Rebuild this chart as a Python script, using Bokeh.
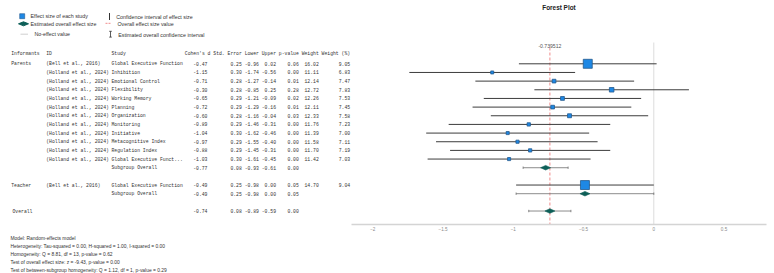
from bokeh.plotting import figure
from bokeh.models import Range1d, FixedTicker
from bokeh.core.properties import value
from bokeh.embed import file_html
from bokeh.resources import INLINE

# ---------------- data ----------------
parent_ids = ["(Bell et al., 2016)"] + ["(Holland et al., 2024)"] * 11
parent_studies = ["Global Executive Function", "Inhibition", "Emotional Control",
                  "Flexibility", "Working Memory", "Planning", "Organization",
                  "Monitoring", "Initiative", "Metacognitive Index",
                  "Regulation Index", "Global Executive Funct..."]
parent_d = [-0.47, -1.15, -0.71, -0.30, -0.65, -0.72, -0.60, -0.89, -1.04, -0.97, -0.88, -1.03]
parent_se = [0.25, 0.30, 0.28, 0.28, 0.29, 0.29, 0.28, 0.29, 0.30, 0.29, 0.29, 0.30]
parent_lower = [-0.96, -1.74, -1.27, -0.85, -1.21, -1.29, -1.16, -1.46, -1.62, -1.55, -1.45, -1.61]
parent_upper = [0.02, -0.56, -0.14, 0.25, -0.09, -0.16, -0.04, -0.31, -0.46, -0.40, -0.31, -0.45]
parent_p = [0.06, 0.00, 0.01, 0.28, 0.02, 0.01, 0.03, 0.00, 0.00, 0.00, 0.00, 0.00]
parent_weight = [16.02, 11.11, 12.14, 12.72, 12.26, 12.11, 12.33, 11.76, 11.39, 11.58, 11.70, 11.42]
parent_weight_pct = [9.05, 6.83, 7.47, 7.83, 7.53, 7.45, 7.58, 7.23, 7.00, 7.11, 7.19, 7.03]
parent_overall = dict(d=-0.77, se=0.08, lower=-0.93, upper=-0.61, p=0.00)

teacher_ids = ["(Bell et al., 2016)"]
teacher_studies = ["Global Executive Function"]
teacher_d = [-0.49]
teacher_se = [0.25]
teacher_lower = [-0.98]
teacher_upper = [0.00]
teacher_p = [0.05]
teacher_weight = [14.70]
teacher_weight_pct = [9.04]
teacher_overall = dict(d=-0.49, se=0.25, lower=-0.98, upper=0.00, p=0.05)

overall = dict(d=-0.739512, se=0.08, lower=-0.89, upper=-0.59, p=0.00)

x_ticks = [-2.0, -1.5, -1.0, -0.5, 0.0, 0.5]

text_header = ["Informants", "ID", "Study"]
num_header = ["Cohen's d", "Std. Error", "Lower", "Upper", "p-value", "Weight", "Weight (%)"]

model_lines = [
    "Model: Random-effects model",
    "Heterogeneity: Tau-squared = 0.00, H-squared = 1.00, I-squared = 0.00",
    "Homogeneity: Q = 8.81, df = 13, p-value = 0.62",
    "Test of overall effect size: z = -9.43, p-value = 0.00",
    "Test of between-subgroup homogeneity: Q = 1.12, df = 1, p-value = 0.29",
]

# ---------------- layout helpers ----------------
W, H = 774, 273
X0_PX, X_SCALE = 653.3, 140.5      # pixel of x=0 and pixels per unit
Y0_PX, ROW_PX = 63.3, 8.66         # pixel of first row and row pitch


def fx(px):
    return (px - X0_PX) / X_SCALE


def fy(py):
    return (py - Y0_PX) / ROW_PX


MONO = value("Liberation Mono")
SANS = value("Liberation Sans")
TXT = "#333333"
CHAR_PX = 2.85                      # advance of one monospace character
MONO_SIZE = f"{CHAR_PX / 0.6:.2f}px"
SANS_SIZE = "5.3px"

p = figure(width=W, height=H, output_backend="svg", toolbar_location=None,
           x_range=Range1d(fx(0), fx(W)), y_range=Range1d(fy(H), fy(0)),
           min_border=0, min_border_left=0, min_border_right=0,
           min_border_top=0, min_border_bottom=0)
p.outline_line_color = None
p.background_fill_color = "white"
p.border_fill_color = "white"
p.xgrid.visible = False
p.ygrid.visible = False
p.yaxis.visible = False

ax = p.xaxis[0]
ax.fixed_location = fy(224)
ax.bounds = (fx(351), fx(766))
ax.ticker = FixedTicker(ticks=x_ticks)
ax.axis_line_color = "#d4d4d4"
ax.axis_line_width = 1.5
ax.major_tick_line_color = None
ax.minor_tick_line_color = None
ax.major_tick_out = 0
ax.major_tick_in = 0
ax.minor_tick_out = 0
ax.major_label_text_font = "Liberation Sans"
ax.major_label_text_font_size = "4.6px"
ax.major_label_text_color = "#8a8a8a"
ax.major_label_standoff = 2

# ---------------- rows ----------------
rows = []
for i in range(len(parent_d)):
    rows.append(dict(y=i, inf="Parents" if i == 0 else "", id=parent_ids[i],
                     study=parent_studies[i], d=parent_d[i], se=parent_se[i],
                     lo=parent_lower[i], hi=parent_upper[i], p=parent_p[i],
                     w=parent_weight[i], wp=parent_weight_pct[i], kind="study"))
rows.append(dict(y=12, inf="", id="", study="Subgroup Overall", d=parent_overall["d"],
                 se=parent_overall["se"], lo=parent_overall["lower"],
                 hi=parent_overall["upper"], p=parent_overall["p"], w=None, wp=None,
                 kind="pooled"))
for i in range(len(teacher_d)):
    rows.append(dict(y=14 + i, inf="Teacher" if i == 0 else "", id=teacher_ids[i],
                     study=teacher_studies[i], d=teacher_d[i], se=teacher_se[i],
                     lo=teacher_lower[i], hi=teacher_upper[i], p=teacher_p[i],
                     w=teacher_weight[i], wp=teacher_weight_pct[i], kind="study"))
rows.append(dict(y=15, inf="", id="", study="Subgroup Overall", d=teacher_overall["d"],
                 se=teacher_overall["se"], lo=teacher_overall["lower"],
                 hi=teacher_overall["upper"], p=teacher_overall["p"], w=None, wp=None,
                 kind="pooled"))
rows.append(dict(y=17, inf="Overall", id="", study="", d=overall["d"], se=overall["se"],
                 lo=overall["lower"], hi=overall["upper"], p=overall["p"], w=None,
                 wp=None, kind="pooled"))

studies = [r for r in rows if r["kind"] == "study"]
pooled = [r for r in rows if r["kind"] == "pooled"]

# reference lines
p.segment(x0=[0], y0=[fy(42)], x1=[0], y1=[fy(224)], line_color="#dcdcdc", line_width=1)
p.segment(x0=[overall["d"]], y0=[fy(47)], x1=[overall["d"]], y1=[fy(224)],
          line_color="#f08a8a", line_width=1, line_dash="3 2")
p.text(x=[overall["d"]], y=[fy(45)], text=[f"{overall['d']:.6f}"], text_font=SANS,
       text_font_size="5.1px", text_color="#555555", text_align="center",
       text_baseline="middle")

# study confidence intervals and weighted squares
p.segment(x0=[r["lo"] for r in studies], y0=[r["y"] for r in studies],
          x1=[r["hi"] for r in studies], y1=[r["y"] for r in studies],
          line_color="#3c3c3c", line_width=1)
wmin = min(r["wp"] for r in studies)
wmax = max(r["wp"] for r in studies)
sizes = [3 + 6 * ((r["wp"] - wmin) / (wmax - wmin)) ** 1.7 for r in studies]
p.scatter(x=[r["d"] for r in studies], y=[r["y"] for r in studies], size=sizes,
          marker="square", fill_color="#1e88e5", line_color="#245a8e", line_width=0.8)

# pooled estimates: whiskers with caps and diamonds
cap = 1.2 / ROW_PX
p.segment(x0=[r["lo"] for r in pooled], y0=[r["y"] for r in pooled],
          x1=[r["hi"] for r in pooled], y1=[r["y"] for r in pooled],
          line_color="#6e6e6e", line_width=0.8)
for key in ("lo", "hi"):
    p.segment(x0=[r[key] for r in pooled], y0=[r["y"] - cap for r in pooled],
              x1=[r[key] for r in pooled], y1=[r["y"] + cap for r in pooled],
              line_color="#6e6e6e", line_width=0.8)
hw, hh = 5.0 / X_SCALE, 2.3 / ROW_PX
p.patches(xs=[[r["d"] - hw, r["d"], r["d"] + hw, r["d"]] for r in pooled],
          ys=[[r["y"], r["y"] - hh, r["y"], r["y"] + hh] for r in pooled],
          fill_color="#0d5f58", line_color="#0d5f58", line_width=0.6)

# ---------------- table ----------------
# text columns are left aligned; numeric columns are right aligned under a
# single-spaced header line that starts at NUM_X
left_keys = ["inf", "id", "study"]
left_x = [10.7, 45.7, 111.0]
num_keys = ["d", "se", "lo", "hi", "p", "w", "wp"]
NUM_X = 184.3
col_shift = [-3.0, 0, 0, 0, 0, 0, 0]

head_start, num_right = [], []
col = 0
for h, dx in zip(num_header, col_shift):
    head_start.append(NUM_X + col * CHAR_PX)
    col += len(h)
    num_right.append(NUM_X + col * CHAR_PX + dx)
    col += 1

p.text(x=[fx(v) for v in left_x + head_start], y=[fy(53.3)] * (3 + len(num_header)),
       text=text_header + num_header,
       text_font=MONO, text_font_size=MONO_SIZE, text_color=TXT,
       text_align="left", text_baseline="middle")

for key, px in zip(left_keys, left_x):
    sel = [r for r in rows if r[key]]
    xs = [fx(px + (1.3 if r["inf"] == "Overall" else 0)) for r in sel]
    p.text(x=xs, y=[r["y"] for r in sel], text=[r[key] for r in sel],
           text_font=MONO, text_font_size=MONO_SIZE, text_color=TXT,
           text_align="left", text_baseline="middle")
for key, px in zip(num_keys, num_right):
    sel = [r for r in rows if r[key] is not None]
    p.text(x=[fx(px)] * len(sel), y=[r["y"] for r in sel],
           text=[f"{r[key]:.2f}" for r in sel],
           text_font=MONO, text_font_size=MONO_SIZE, text_color=TXT,
           text_align="right", text_baseline="middle")

# ---------------- title ----------------
p.text(x=[fx(558.5)], y=[fy(7.3)], text=["Forest Plot"], text_font=SANS,
       text_font_style="bold", text_font_size="6.4px", text_color="#222222",
       text_align="center", text_baseline="middle")

# ---------------- legend ----------------
p.scatter(x=[fx(21.7)], y=[fy(15.7)], size=5, marker="square",
          fill_color="#1e88e5", line_color="#245a8e", line_width=0.6)
p.patch(x=[fx(18), fx(23), fx(28), fx(23)],
        y=[fy(23.3), fy(21.3), fy(23.3), fy(25.3)],
        fill_color="#0d5f58", line_color="#0d5f58")
p.segment(x0=[fx(20)], y0=[fy(33.7)], x1=[fx(27.5)], y1=[fy(33.7)],
          line_color="#cfcfcf", line_width=1)
p.segment(x0=[fx(109)], y0=[fy(12.5)], x1=[fx(109)], y1=[fy(19.5)],
          line_color="#333333", line_width=1)
p.segment(x0=[fx(105)], y0=[fy(22.8)], x1=[fx(111)], y1=[fy(22.8)],
          line_color="#f08a8a", line_width=1, line_dash="2 1")
p.segment(x0=[fx(110)], y0=[fy(30.8)], x1=[fx(110)], y1=[fy(36.6)],
          line_color="#333333", line_width=0.8)
p.segment(x0=[fx(108.7), fx(108.7)], y0=[fy(30.8), fy(36.6)],
          x1=[fx(111.3), fx(111.3)], y1=[fy(30.8), fy(36.6)],
          line_color="#333333", line_width=0.8)

legend_text = ["Effect size of each study", "Estimated overall effect size", "No-effect value",
               "Confidence interval of effect size", "Overall effect size value",
               "Estimated overall confidence interval"]
legend_x = [30, 30, 34, 115.7, 117, 117.7]
legend_y = [15.7, 23.3, 33.7, 16.0, 23.3, 34.0]
p.text(x=[fx(v) for v in legend_x], y=[fy(v) for v in legend_y], text=legend_text,
       text_font=SANS, text_font_size=SANS_SIZE, text_color=TXT,
       text_align="left", text_baseline="middle")

# ---------------- model summary ----------------
p.text(x=[fx(10)] * len(model_lines), y=[fy(237.5 + 8.1 * k) for k in range(len(model_lines))],
       text=model_lines, text_font=SANS, text_font_size="4.9px", text_color=TXT,
       text_align="left", text_baseline="middle")

open("out.html", "w").write(file_html(p, INLINE))
